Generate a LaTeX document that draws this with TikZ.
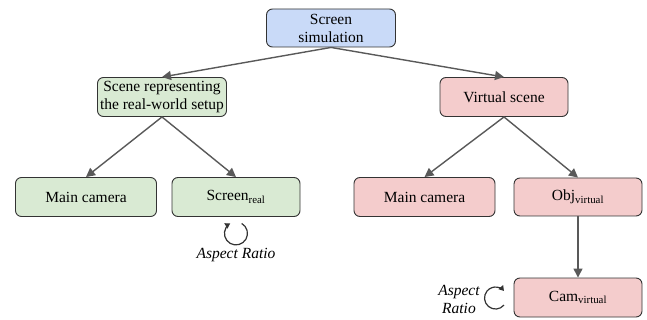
\documentclass[tikz,border=0pt]{standalone}
\usepackage{fontspec}
\setmainfont{Liberation Serif}
\usetikzlibrary{arrows.meta}
\definecolor{simblue}{HTML}{C9DAF8}
\definecolor{realgreen}{HTML}{D9EAD3}
\definecolor{virtpink}{HTML}{F4CCCC}
\definecolor{edgegray}{HTML}{595959}
\definecolor{boxline}{HTML}{333333}
\tikzset{
  box/.style={draw=boxline, line width=0.9pt, rounded corners=6pt, inner sep=0pt,
    minimum height=39pt, align=center, font=\rmfamily\fontsize{15.5}{18}\selectfont},
  link/.style={draw=edgegray, line width=1.4pt, -{Triangle[length=9pt,width=9pt]}},
  turn/.style={draw=boxline, line width=1.2pt, -{Triangle[length=5pt,width=6pt]}},
  ratio/.style={font=\rmfamily\fontsize{15.5}{18}\selectfont\itshape, align=center}
}
\begin{document}
\begin{tikzpicture}[x=1pt,y=1pt]
      \useasboundingbox (0,0) rectangle (647,-320);
      \node[box, fill=simblue, minimum width=129pt, minimum height=38pt] (sim) at (331,-28) {Screen\\simulation};
      \node[box, fill=realgreen, minimum width=129pt] (real) at (162,-97) {Scene representing\\the real-world setup};
      \node[box, fill=virtpink, minimum width=128pt] (virt) at (504,-97) {Virtual scene};
      \node[box, fill=realgreen, minimum width=141pt] (realcam) at (86,-197) {Main camera};
      \node[box, fill=realgreen, minimum width=128pt] (screen) at (236,-197) {Screen\textsubscript{real}};
      \node[box, fill=virtpink, minimum width=141pt] (virtcam) at (424.5,-197) {Main camera};
      \node[box, fill=virtpink, minimum width=128pt, minimum height=38pt] (obj) at (578,-197) {Obj\textsubscript{virtual}};
      \node[box, fill=virtpink, minimum width=128pt] (cam) at (578,-297.5) {Cam\textsubscript{virtual}};
      \draw[link] (sim.south) -- (real.north);
      \draw[link] (sim.south) -- (virt.north);
      \draw[link] (real.south) -- (realcam.north);
      \draw[link] (real.south) -- (screen.north);
      \draw[link] (virt.south) -- (virtcam.north);
      \draw[link] (virt.south) -- (obj.north);
      \draw[link] (obj.south) -- (cam.north);
      \draw[turn] (screen.south) ++(5.7,-6.5) arc[start angle=60, end angle=-240, radius=11.5];
      \node[ratio] (screenratio) at (236,-255) {Aspect Ratio};
      \draw[turn] (cam.west) ++(-9.6,-7.6) arc[start angle=-40, end angle=-320, radius=11];
      \node[ratio] (camratio) at (459,-299) {Aspect\\Ratio};
\end{tikzpicture}
\end{document}
